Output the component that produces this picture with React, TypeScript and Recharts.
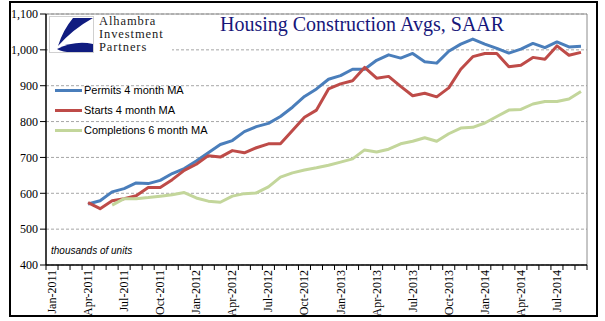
import React from "react";
import {
  LineChart,
  Line,
  XAxis,
  YAxis,
  CartesianGrid,
  ReferenceLine,
  Legend,
} from "recharts";

// Jan-2011 .. Sep-2014, one category per month
const monthNames = ["Jan", "Feb", "Mar", "Apr", "May", "Jun", "Jul", "Aug", "Sep", "Oct", "Nov", "Dec"];
const years = [2011, 2012, 2013, 2014];
const months: string[] = years
  .flatMap((y) => monthNames.map((m) => `${m}-${y}`))
  .slice(0, 45);

// thousands of units, SAAR
const permits = [
  null, null, null,
  570, 579, 604, 613, 629, 627, 636, 655, 669,
  690, 713, 736, 747, 772, 786, 795, 814, 840, 870, 891, 918,
  928, 946, 946, 971, 986, 977, 990, 967, 963, 996, 1016, 1030,
  1016, 1004, 991, 1002, 1018, 1006, 1022, 1008, 1010,
];
const starts = [
  null, null, null,
  574, 557, 579, 585, 593, 616, 616, 638, 664,
  681, 705, 701, 719, 713, 727, 738, 738, 775, 812, 832, 891,
  905, 914, 951, 921, 926, 898, 872, 879, 869, 894, 946, 981,
  990, 990, 953, 957, 979, 974, 1011, 985, 993,
];
const completions = [
  null, null, null, null, null,
  567, 585, 585, 588, 592, 596, 602,
  587, 578, 575, 592, 599, 601, 618, 645, 657, 665, 671, 678,
  687, 696, 721, 715, 723, 738, 745, 755, 745, 766, 782, 784,
  796, 814, 832, 834, 849, 856, 856, 863, 884,
];

const yTicks = [400, 500, 600, 700, 800, 900, 1000, 1100];

const seriesInfo = [
  { key: "permits", name: "Permits 4 month MA", color: "#4a7ebb" },
  { key: "starts", name: "Starts 4 month MA", color: "#be4b48" },
  { key: "completions", name: "Completions 6 month MA", color: "#c3d69b" },
];

const logoLines = ["Alhambra", "Investment", "Partners"];

// each month sits in the middle of its band (x = i + 0.5)
const data = months.map((m, i) => ({
  x: i + 0.5,
  month: m,
  permits: permits[i],
  starts: starts[i],
  completions: completions[i],
}));

// tick marks on band edges, labels every 3rd month at band centre
const xTicks: number[] = [];
for (let i = 0; i <= months.length; i++) xTicks.push(i);
for (let i = 0; i < months.length; i += 3) xTicks.push(i + 0.5);

const XTick = (props: any) => {
  const { x, y, payload } = props;
  const v = payload.value;
  if (Number.isInteger(v)) {
    return <line x1={x} x2={x} y1={y} y2={y + 5} stroke="#000" strokeWidth={1} />;
  }
  const label = months[Math.floor(v)];
  const ty = y + 5;
  return (
    <text
      x={x}
      y={ty}
      transform={`rotate(-90 ${x} ${ty})`}
      textAnchor="end"
      dominantBaseline="central"
      fontFamily="Liberation Serif"
      fontSize={12}
      fill="#000"
    >
      {label}
    </text>
  );
};

const LegendBox = () => (
  <div style={{ fontFamily: "Liberation Sans", fontSize: 11, color: "#000" }}>
    {seriesInfo.map((s) => (
      <div key={s.key} style={{ display: "flex", alignItems: "center", height: 20 }}>
        <div style={{ width: 27, height: 3, background: s.color, marginRight: 2 }} />
        <span>{s.name}</span>
      </div>
    ))}
  </div>
);

export default function App() {
  return (
    <div style={{ position: "absolute", left: 0, top: 0, width: 605, height: 321, background: "#fff" }}>
      <LineChart
        width={605}
        height={321}
        data={data}
        margin={{ top: 14, right: 18, left: 0, bottom: 0 }}
      >
        <CartesianGrid vertical={false} stroke="#a6a6a6" strokeDasharray="3 2" />
        <XAxis
          dataKey="x"
          type="number"
          domain={[0, months.length]}
          ticks={xTicks}
          interval={0}
          height={56}
          tickSize={0}
          tickMargin={0}
          tickLine={false}
          tick={<XTick />}
          axisLine={{ stroke: "#000", strokeWidth: 1.5 }}
        />
        <YAxis
          domain={[400, 1100]}
          ticks={yTicks}
          width={46}
          tickSize={6}
          tickMargin={2}
          tickFormatter={(v: number) => v.toLocaleString("en-US")}
          tick={{ fontFamily: "Liberation Serif", fontSize: 12, fill: "#000" }}
          tickLine={{ stroke: "#000" }}
          axisLine={{ stroke: "#000", strokeWidth: 1.5 }}
        />
        <ReferenceLine y={1100} stroke="#8c8c8c" strokeWidth={1} />
        <ReferenceLine x={months.length} stroke="#8c8c8c" strokeWidth={1} />
        <Legend
          layout="vertical"
          align="center"
          verticalAlign="middle"
          content={<LegendBox />}
          wrapperStyle={{ position: "absolute", left: 55, top: 80, width: 160 }}
        />
        {seriesInfo.map((s) => (
          <Line
            key={s.key}
            type="linear"
            dataKey={s.key}
            name={s.name}
            stroke={s.color}
            strokeWidth={3}
            dot={false}
            activeDot={false}
            strokeLinejoin="round"
            isAnimationActive={false}
          />
        ))}
      </LineChart>

      {/* logo */}
      <div style={{ position: "absolute", left: 48, top: 15, width: 124, height: 42, background: "#fff" }}>
        <svg width={46} height={38} style={{ position: "absolute", left: 1, top: 1 }}>
          <rect x={0.5} y={0.5} width={44} height={36} fill="#fff" stroke="#d0d0d0" />
          <path d="M24 2 L44 2 Q24 13 9 30 Q14 14 24 2 Z" fill="#101c80" />
          <path d="M8 33 Q26 24 44 28 L44 36 L18 36 Q11 35 8 33 Z" fill="#101c80" />
        </svg>
        {logoLines.map((t, i) => (
          <div
            key={t}
            style={{
              position: "absolute",
              left: 51,
              top: 0 + i * 13,
              fontFamily: "Liberation Serif",
              fontSize: 12.5,
              lineHeight: "13px",
              letterSpacing: 0.9,
              color: "#1a1a1a",
              whiteSpace: "nowrap",
            }}
          >
            {t}
          </div>
        ))}
      </div>

      <div
        style={{
          position: "absolute",
          left: 220,
          top: 14,
          fontFamily: "Liberation Serif",
          fontSize: 20,
          lineHeight: 1,
          color: "#17177a",
          whiteSpace: "nowrap",
        }}
      >
        Housing Construction Avgs, SAAR
      </div>

      <div
        style={{
          position: "absolute",
          left: 51,
          top: 245,
          fontFamily: "Liberation Sans",
          fontStyle: "italic",
          fontSize: 10,
          color: "#000",
          whiteSpace: "nowrap",
        }}
      >
        thousands of units
      </div>

      {/* outer frame */}
      <div
        style={{
          position: "absolute",
          left: 9,
          top: 1,
          width: 589,
          height: 316,
          boxSizing: "border-box",
          border: "2px solid #000",
          pointerEvents: "none",
        }}
      />
    </div>
  );
}
